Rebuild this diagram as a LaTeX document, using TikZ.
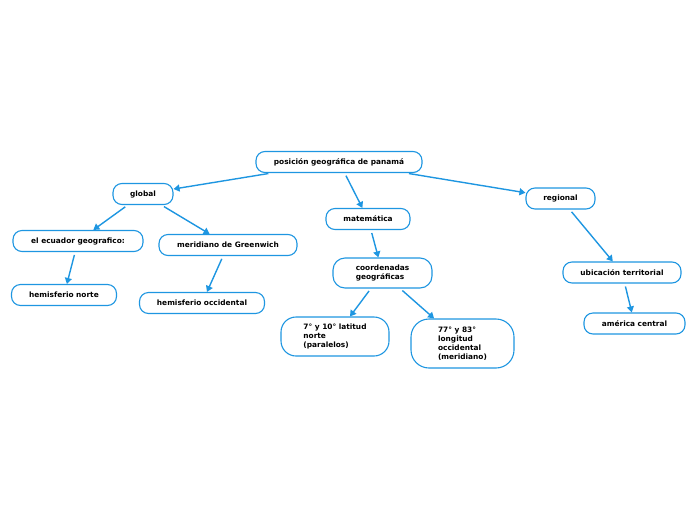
\documentclass[tikz,border=0pt]{standalone}
\usepackage{fontspec}
\setmainfont{DejaVu Sans}
\usetikzlibrary{arrows.meta}
\definecolor{myblue}{RGB}{30,150,225}
\tikzset{
  box/.style={draw=myblue, line width=1.1pt, rounded corners=9pt, fill=white,
    font=\bfseries\fontsize{7.4}{9}\selectfont, text=black, minimum height=21pt,
    inner xsep=4pt, inner ysep=3pt, align=left},
  conn/.style={draw=myblue, line width=1.4pt, shorten <=3pt,
    -{Triangle[width=7pt,length=6pt]}}
}
\begin{document}
\begin{tikzpicture}[x=1pt,y=-1pt]
\useasboundingbox (0,0) rectangle (696,520);
\node[box, minimum width=166pt] (top) at (339,162) {posición geográfica de panamá};
\node[box, minimum width=60pt] (global) at (143,194) {global};
\node[box, minimum width=130pt] (ecuador) at (78,241) {el ecuador geografico:};
\node[box, minimum width=138pt] (meridiano) at (228,245) {meridiano de Greenwich};
\node[box, minimum width=105pt] (hnorte) at (64,295) {hemisferio norte};
\node[box, minimum width=125pt] (hocc) at (202,303) {hemisferio occidental};
\node[box, minimum width=84pt] (matem) at (368,219) {matemática};
\node[box, minimum width=99pt, minimum height=30pt, rounded corners=12pt] (coord) at (382.5,273) {coordenadas\\geográficas};
\node[box, minimum width=108pt, minimum height=39pt, rounded corners=15pt] (lat) at (335,336.5) {7° y 10° latitud\\norte\\(paralelos)};
\node[box, minimum width=103pt, minimum height=49pt, rounded corners=18pt] (lon) at (462.5,343.5) {77° y 83°\\longitud\\occidental\\(meridiano)};
\node[box, minimum width=69pt] (regional) at (560.5,198.5) {regional};
\node[box, minimum width=118pt] (ubic) at (622,272.5) {ubicación territorial};
\node[box, minimum width=101pt] (america) at (634.5,323.5) {américa central};
\draw[conn] (top) -- (global);
\draw[conn] (top) -- (matem);
\draw[conn] (top) -- (regional);
\draw[conn] (global) -- (ecuador);
\draw[conn] (global) -- (meridiano);
\draw[conn] (ecuador) -- (hnorte);
\draw[conn] (meridiano) -- (hocc);
\draw[conn] (matem) -- (coord);
\draw[conn] (coord) -- (lat);
\draw[conn] (coord) -- (lon);
\draw[conn] (regional) -- (ubic);
\draw[conn] (ubic) -- (america);
\end{tikzpicture}
\end{document}
